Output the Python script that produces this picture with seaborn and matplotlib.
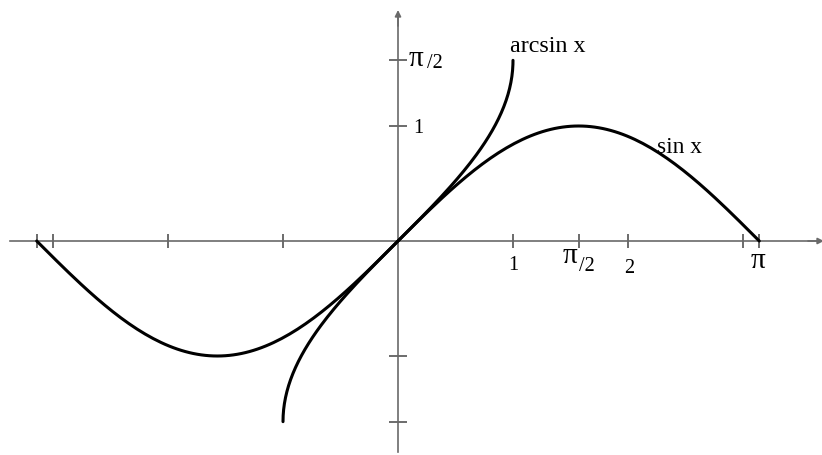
import numpy as np
import pandas as pd
import matplotlib
matplotlib.use("Agg")
import matplotlib.pyplot as plt
import seaborn as sns

# Curves: sin x on [-pi, pi], arcsin x on [-1, 1]
sin_x = np.linspace(-np.pi, np.pi, 181)
sin_y = np.sin(sin_x)
asin_x = np.sin(np.linspace(-np.pi / 2, np.pi / 2, 181))
asin_y = np.arcsin(asin_x)

x_ticks = [-np.pi, -3, -2, -1, 1, np.pi / 2, 2, 3, np.pi]
y_ticks = [-np.pi / 2, -1, 1, np.pi / 2]

curve_names = ["sin x", "arcsin x"]

sns.set_style("white")
plt.rcParams["font.family"] = ["Liberation Serif", "DejaVu Serif"]

fig = plt.figure(figsize=(8.22, 4.55), dpi=100)
ax = fig.add_axes([0, 0, 1, 1])

scale = 115.0  # pixels per unit
ax.set_xlim(-398 / scale, 424 / scale)
ax.set_ylim(-214 / scale, 241 / scale)

df_sin = pd.DataFrame({"x": sin_x, "y": sin_y})
df_asin = pd.DataFrame({"x": asin_x, "y": asin_y})
sns.lineplot(data=df_sin, x="x", y="y", sort=False, estimator=None,
             color="black", lw=2.2, ax=ax, zorder=5)
sns.lineplot(data=df_asin, x="x", y="y", sort=False, estimator=None,
             color="black", lw=2.2, ax=ax, zorder=5)

axis_col = "#6a6a6a"
# axes through the origin
for side in ("top", "right"):
    ax.spines[side].set_visible(False)
for side in ("left", "bottom"):
    ax.spines[side].set_position(("data", 0))
    ax.spines[side].set_color(axis_col)
    ax.spines[side].set_linewidth(1.2)
    ax.spines[side].set_zorder(1)
ax.spines["bottom"].set_bounds(-388 / scale, 424 / scale)
ax.spines["left"].set_bounds(-211 / scale, 228 / scale)

ax.set_xticks(x_ticks)
ax.set_yticks(y_ticks)
ax.tick_params(axis="x", bottom=True, direction="inout", length=10, width=1.1,
               color="#444444", labelbottom=False)
ax.tick_params(axis="y", left=True, direction="inout", length=13, width=1.1,
               color="#444444", labelleft=False)
ax.set_xlabel("")
ax.set_ylabel("")

# arrowheads at the axis ends
ax.annotate("", xy=(0, 231 / scale), xytext=(0, 215 / scale),
            arrowprops=dict(arrowstyle="-|>", color=axis_col, lw=1.2,
                            mutation_scale=9, shrinkA=0, shrinkB=0))
ax.annotate("", xy=(426 / scale, 0), xytext=(410 / scale, 0),
            arrowprops=dict(arrowstyle="-|>", color=axis_col, lw=1.2,
                            mutation_scale=9, shrinkA=0, shrinkB=0),
            annotation_clip=False)

num_fs = 14.5
pi_fs = 21
sub_fs = 14.5


def label(text, xy, off, fs, ha="left"):
    ax.annotate(text, xy=xy, xytext=off, textcoords="offset pixels",
                fontsize=fs, ha=ha, va="baseline", color="black")


# y-axis labels
label("1", (0, 1), (15, -7), num_fs)
label("π", (0, np.pi / 2), (11, -6), pi_fs)
label("/2", (0, np.pi / 2), (29, -8), sub_fs)

# x-axis labels
label("1", (1, 0), (0, -29), num_fs, ha="center")
label("π", (np.pi / 2, 0), (-9, -22), pi_fs, ha="center")
label("/2", (np.pi / 2, 0), (0, -30), sub_fs)
label("2", (2, 0), (1, -32), num_fs, ha="center")
label("π", (np.pi, 0), (-1, -27), pi_fs, ha="center")

# curve names
label(curve_names[1], (1, np.pi / 2), (-3, 8), 17.3)
label(curve_names[0], (2, np.sin(2)), (29, -17), 16.8)

fig.savefig("out.png", dpi=100)
